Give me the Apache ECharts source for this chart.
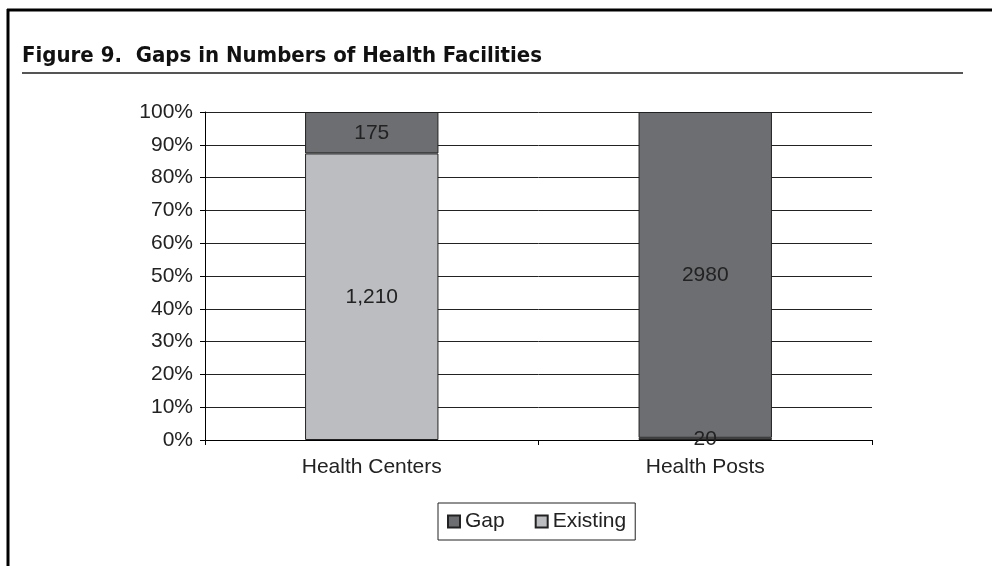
<!DOCTYPE html>
<html>
<head>
<meta charset="utf-8">
<script src="https://cdn.jsdelivr.net/npm/echarts@6/dist/echarts.min.js"></script>
<style>
html,body{margin:0;padding:0;background:#fff;}
#chart{width:992px;height:566px;}
</style>
</head>
<body>
<div id="chart"></div>
<script>
var categories = ['Health Centers', 'Health Posts'];
var existing = [1210, 20];
var gap = [175, 2980];
var existingLabels = ['1,210', '20'];
var gapLabels = ['175', '2980'];
var yTicks = [0, 10, 20, 30, 40, 50, 60, 70, 80, 90, 100];

function pct(part, i){
    var total = existing[i] + gap[i];
    return part[i] / total * 100;
}
var existingPct = existing.map(function(v, i){ return pct(existing, i); });
var gapPct = gap.map(function(v, i){ return pct(gap, i); });

var chart = echarts.init(document.getElementById('chart'));
var txt = '#222';
var font = 'Liberation Sans, Arial, sans-serif';
var option = {
    backgroundColor: '#fff',
    animation: false,
    graphic: [
        { type: 'line', shape: {x1: 7, y1: 10, x2: 992, y2: 10}, style: {stroke: '#000', lineWidth: 3} },
        { type: 'line', shape: {x1: 8, y1: 9, x2: 8, y2: 566}, style: {stroke: '#000', lineWidth: 3} },
        { type: 'line', shape: {x1: 22, y1: 73, x2: 963, y2: 73}, style: {stroke: '#555', lineWidth: 2} },
        { type: 'text', left: 22, top: 45, style: {
            text: 'Figure 9.  Gaps in Numbers of Health Facilities',
            fontFamily: "'DejaVu Sans Condensed', 'DejaVu Sans', sans-serif",
            fontWeight: 'bold', fontSize: 22, fill: '#111'
        } }
    ],
    grid: { left: 205, right: 120, top: 112, bottom: 126 },
    legend: {
        data: ['Gap', 'Existing'],
        left: 438, top: 503,
        orient: 'horizontal',
        icon: 'rect',
        padding: [8, 9, 8, 9],
        itemGap: 30,
        itemWidth: 12, itemHeight: 12,
        borderColor: '#222', borderWidth: 1,
        textStyle: { color: txt, fontSize: 21, fontFamily: font }
    },
    xAxis: {
        type: 'category',
        data: categories,
        axisLine: { lineStyle: { color: '#000', width: 1 } },
        axisTick: { show: true, length: 5, lineStyle: { color: '#000' } },
        axisLabel: { color: txt, fontSize: 21, margin: 17, fontFamily: font }
    },
    yAxis: {
        type: 'value',
        min: yTicks[0], max: yTicks[yTicks.length - 1], interval: 10,
        axisLine: { show: true, lineStyle: { color: '#000', width: 1 } },
        axisTick: { show: true, length: 5, lineStyle: { color: '#000' } },
        splitLine: { lineStyle: { color: '#222', width: 1 } },
        axisLabel: { color: txt, fontSize: 21, margin: 12, formatter: '{value}%', fontFamily: font }
    },
    series: [
        {
            name: 'Existing', type: 'bar', stack: 'total', barWidth: '40%',
            data: existingPct,
            itemStyle: { color: '#bcbdc0', borderColor: '#222', borderWidth: 1 },
            label: { show: true, position: 'inside', color: txt, fontSize: 21, fontFamily: font,
                formatter: function(p){ return existingLabels[p.dataIndex]; } }
        },
        {
            name: 'Gap', type: 'bar', stack: 'total', barWidth: '40%',
            data: gapPct,
            itemStyle: { color: '#6d6e71', borderColor: '#222', borderWidth: 1 },
            label: { show: true, position: 'inside', color: txt, fontSize: 21, fontFamily: font,
                formatter: function(p){ return gapLabels[p.dataIndex]; } }
        }
    ]
};
chart.setOption(option);
</script>
</body>
</html>
